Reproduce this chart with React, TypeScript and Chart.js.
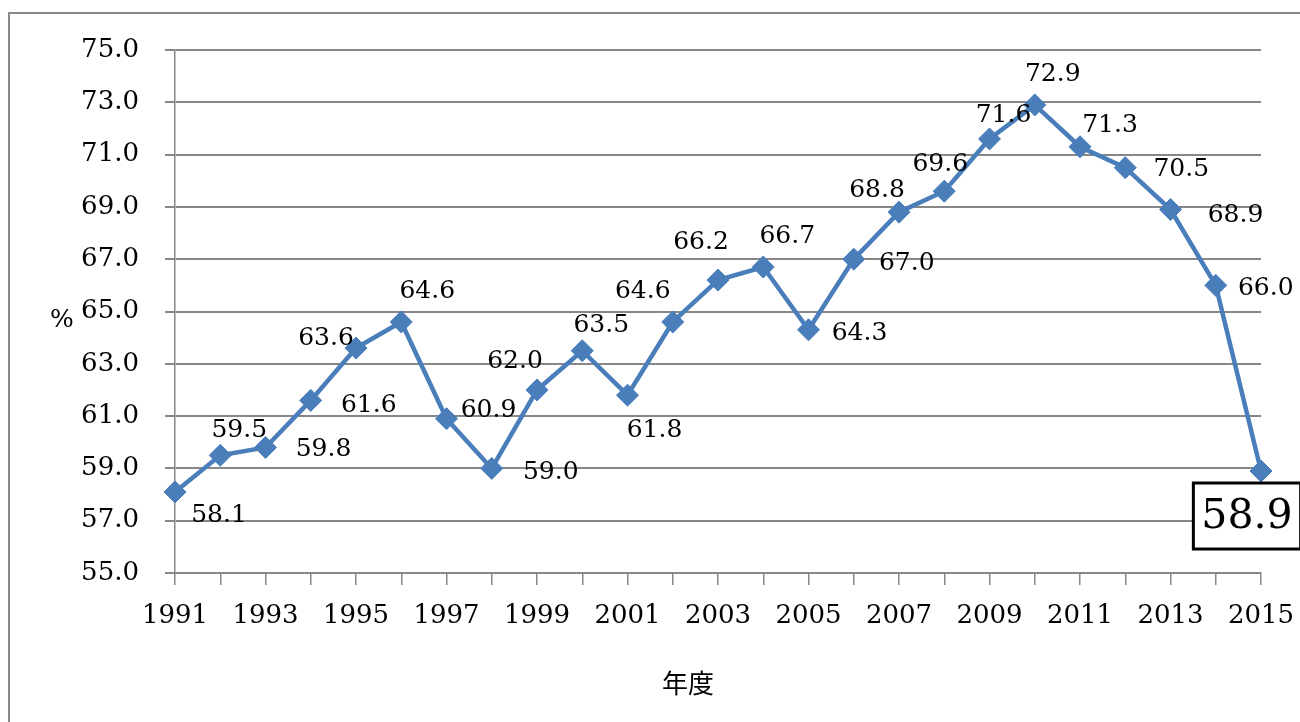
import React, { useEffect, useRef } from "react";
import { Chart, registerables } from "chart.js";

Chart.register(...registerables);

const years = ["1991","1992","1993","1994","1995","1996","1997","1998","1999","2000","2001","2002","2003","2004","2005","2006","2007","2008","2009","2010","2011","2012","2013","2014","2015"];
const rates = [58.1,59.5,59.8,61.6,63.6,64.6,60.9,59.0,62.0,63.5,61.8,64.6,66.2,66.7,64.3,67.0,68.8,69.6,71.6,72.9,71.3,70.5,68.9,66.0,58.9];
const yTickMin = 55;
const yTickMax = 75;
const yTickStep = 2;
const yTitle = "%";
const xTitle = "年度";

// label offsets (dx, dy) from each point, in px
const labelOffsets: [number, number][] = [
  [44, 24], [19, -25], [58, 2], [58, 5], [-30, -10], [26, -30], [42, -8], [59, 4],
  [-22, -28], [19, -25], [27, 35], [-30, -30], [-17, -38], [24, -31], [51, 4], [53, 4],
  [-22, -22], [-4, -27], [14, -23], [18, -30], [30, -21], [56, 2], [65, 6], [50, 3], [-14, 45],
];

const SERIF = "'DejaVu Serif', 'Liberation Serif', serif";
const CJK = "'Noto Sans CJK JP', sans-serif";

const decorPlugin = {
  id: "decor",
  beforeDraw(chart: any) {
    const ctx = chart.ctx;
    ctx.save();
    ctx.fillStyle = "#ffffff";
    ctx.fillRect(0, 0, chart.width, chart.height);
    ctx.strokeStyle = "#898989";
    ctx.lineWidth = 2;
    ctx.beginPath();
    ctx.moveTo(9, chart.height);
    ctx.lineTo(9, 13);
    ctx.lineTo(chart.width + 2, 13);
    ctx.stroke();
    ctx.restore();
  },
  afterDraw(chart: any) {
    const ctx = chart.ctx;
    const meta = chart.getDatasetMeta(0);
    ctx.save();
    ctx.fillStyle = "#000";
    ctx.textAlign = "center";
    ctx.textBaseline = "middle";
    const last = rates.length - 1;
    meta.data.forEach((pt: any, i: number) => {
      const [dx, dy] = labelOffsets[i];
      const x = pt.x + dx;
      const y = pt.y + dy;
      const txt = rates[i].toFixed(1);
      if (i === last) {
        ctx.font = `41px ${SERIF}`;
        const w = ctx.measureText(txt).width;
        const bw = w + 16;
        const bh = 66;
        ctx.fillStyle = "#fff";
        ctx.fillRect(x - bw / 2, y - bh / 2, bw, bh);
        ctx.strokeStyle = "#000";
        ctx.lineWidth = 3;
        ctx.strokeRect(x - bw / 2, y - bh / 2, bw, bh);
        ctx.fillStyle = "#000";
        ctx.fillText(txt, x, y + 1);
      } else {
        ctx.font = `25px ${SERIF}`;
        ctx.fillText(txt, x, y);
      }
    });
    ctx.font = `26px ${CJK}`;
    ctx.fillText(xTitle, 688, 683);
    ctx.font = `25px ${SERIF}`;
    ctx.fillText(yTitle, 62, 320);
    ctx.restore();
  },
};

export default function App() {
  const ref = useRef<HTMLCanvasElement | null>(null);
  useEffect(() => {
    if (!ref.current) return;
    const chart = new Chart(ref.current, {
      type: "line",
      data: {
        labels: years,
        datasets: [
          {
            data: rates,
            borderColor: "#4A7EBB",
            backgroundColor: "#4A7EBB",
            borderWidth: 4.5,
            pointStyle: "rectRot",
            pointRadius: 11,
            pointBorderWidth: 1,
            tension: 0,
          },
        ],
      },
      options: {
        animation: false,
        responsive: false,
        layout: { padding: { top: 50, right: 39, left: 0, bottom: 0 } },
        plugins: { legend: { display: false }, tooltip: { enabled: false } },
        scales: {
          x: {
            offset: false,
            grid: { display: true, drawOnChartArea: false, color: "#878787", lineWidth: 1.5, tickLength: 12 },
            border: { color: "#878787", width: 2 },
            ticks: {
              autoSkip: false,
              maxRotation: 0,
              padding: 16,
              color: "#000",
              font: { family: SERIF, size: 26 },
              callback: (_v: any, i: number) => (i % 2 === 0 ? years[i] : ""),
            },
            afterFit: (s: any) => {
              s.height = 722 - 573;
              s.paddingLeft = 0;
              s.paddingRight = 0;
            },
          },
          y: {
            min: yTickMin,
            max: yTickMax,
            grid: { color: "#878787", lineWidth: 2, tickLength: 10 },
            border: { color: "#878787", width: 1.5 },
            ticks: {
              stepSize: yTickStep,
              padding: 26,
              color: "#000",
              font: { family: SERIF, size: 26 },
              callback: (v: any) => Number(v).toFixed(1),
            },
            afterFit: (s: any) => {
              s.width = 175;
              s.paddingTop = 0;
              s.paddingBottom = 0;
            },
          },
        },
      },
      plugins: [decorPlugin],
    });
    return () => chart.destroy();
  }, []);
  return (
    <div style={{ position: "fixed", left: 0, top: 0, width: 1300, height: 722 }}>
      <canvas ref={ref} width={1300} height={722} style={{ display: "block" }} />
    </div>
  );
}
